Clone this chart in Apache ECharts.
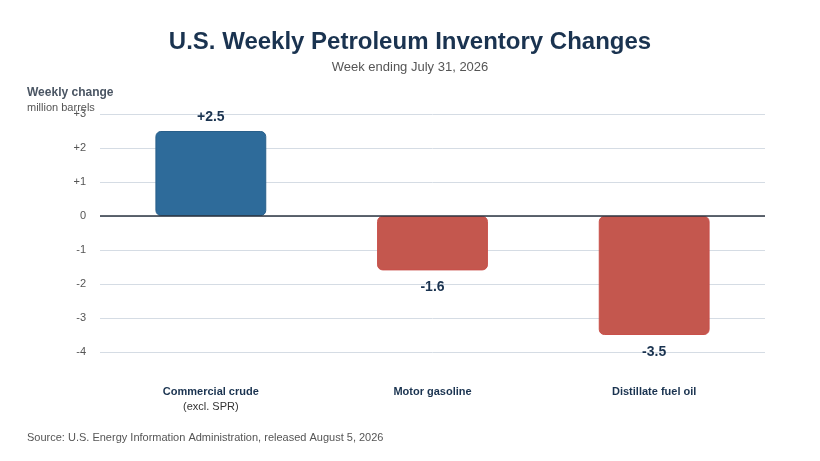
<!DOCTYPE html>
<html>
<head>
<meta charset="utf-8">
<script src="https://cdn.jsdelivr.net/npm/echarts@6/dist/echarts.min.js"></script>
<style>
  html, body { margin: 0; padding: 0; background: #fff; }
  #chart { width: 820px; height: 461px; }
</style>
</head>
<body>
<div id="chart"></div>
<script>
// 주간 재고 변화 데이터 (million barrels)
const categories = ['Commercial crude\n{sub|(excl. SPR)}', 'Motor gasoline', 'Distillate fuel oil'];
const changes = [2.5, -1.6, -3.5];
const yTicks = [-4, -3, -2, -1, 0, 1, 2, 3];

const chart = echarts.init(document.getElementById('chart'));

chart.setOption({
    animation: false,
    title: {
        text: 'U.S. Weekly Petroleum Inventory Changes',
        subtext: 'Week ending July 31, 2026',
        left: 'center',
        top: 25,
        itemGap: 7,
        textStyle: { fontFamily: 'Liberation Sans', fontSize: 24, fontWeight: 'bold', color: '#1a3350' },
        subtextStyle: { fontFamily: 'Liberation Sans', fontSize: 13, color: '#555' }
    },
    graphic: [
        { type: 'text', left: 27, top: 87, style: { text: 'Weekly change', font: 'bold 12px Liberation Sans', fill: '#4a5563' } },
        { type: 'text', left: 27, top: 102, style: { text: 'million barrels', font: '11px Liberation Sans', fill: '#555' } },
        { type: 'text', left: 27, top: 432, style: { text: 'Source: U.S. Energy Information Administration, released August 5, 2026', font: '11px Liberation Sans', fill: '#555' } }
    ],
    grid: { left: 100, right: 55, top: 114, bottom: 109 },
    xAxis: {
        type: 'category',
        data: categories,
        position: 'bottom',
        axisLine: { show: false },
        axisTick: { show: false },
        axisLabel: {
            margin: 32,
            fontFamily: 'Liberation Sans',
            fontSize: 11,
            fontWeight: 'bold',
            color: '#1a3350',
            lineHeight: 15,
            rich: { sub: { fontSize: 11, fontWeight: 'normal', color: '#333', lineHeight: 15 } }
        }
    },
    yAxis: {
        type: 'value',
        min: yTicks[0],
        max: yTicks[yTicks.length - 1],
        interval: 1,
        axisLine: { show: false },
        axisTick: { show: false },
        splitLine: { lineStyle: { color: '#d5dce4' } },
        axisLabel: {
            margin: 14,
            fontFamily: 'Liberation Sans',
            fontSize: 11,
            color: '#555',
            formatter: v => (v > 0 ? '+' + v : String(v))
        }
    },
    series: [{
        type: 'bar',
        barWidth: '50%',
        data: changes.map(v => ({
            value: v,
            itemStyle: {
                color: v >= 0 ? '#2e6b9a' : '#c4574e',
                borderColor: v >= 0 ? '#285f8a' : '#c9504a',
                borderWidth: 1,
                borderRadius: 5
            },
            label: { position: v >= 0 ? 'top' : 'bottom', distance: v >= 0 ? 7 : 10 }
        })),
        label: {
            show: true,
            fontFamily: 'Liberation Sans',
            fontSize: 14,
            fontWeight: 'bold',
            color: '#1a3350',
            formatter: p => (p.value > 0 ? '+' : '') + p.value.toFixed(1)
        },
        markLine: {
            silent: true,
            symbol: 'none',
            label: { show: false },
            lineStyle: { color: '#2b3440', width: 1.5, type: 'solid' },
            data: [{ yAxis: 0 }]
        }
    }]
});
</script>
</body>
</html>
